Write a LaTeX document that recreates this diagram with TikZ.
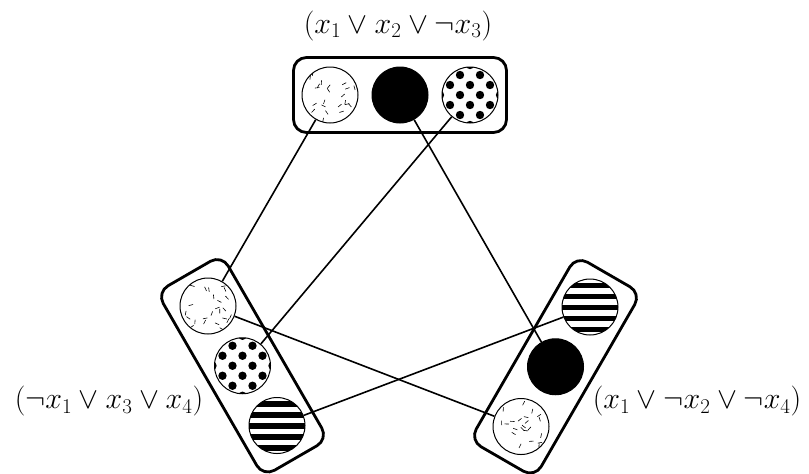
\RequirePackage{fix-cm}
\documentclass[tikz,border=0pt]{standalone}
\usepackage{amssymb}
\usetikzlibrary{positioning}
\usetikzlibrary{calc}

\tikzset{
    lit/.style={circle, draw, fill=white, line width=1pt, minimum size=56pt, inner sep=0pt},
    solidlit/.style={lit, fill=black},
    dashlit/.style={lit, path picture={
        \pgfmathsetseed{#1}
        \foreach \k in {1,...,24}{
            \pgfmathsetmacro\rx{rand*24}
            \pgfmathsetmacro\ry{rand*24}
            \pgfmathsetmacro\ra{rand*180}
            \draw[line width=0.6pt] ($(path picture bounding box.center)+(\rx pt,\ry pt)$) -- ++(\ra:4.5pt);
        }}},
    dashlit/.default=1,
    dotlit/.style={lit, path picture={
        \foreach \i in {-3,...,3}{
            \foreach \j in {-3,...,3}{
                \pgfmathparse{int(mod(\i+\j+10,2))}
                \ifnum\pgfmathresult=1
                    \fill[black] ($(path picture bounding box.center)+(10*\i pt,10*\j pt)$) circle (4.2pt);
                \fi
            }
        }}},
    stripelit/.style={lit, path picture={
        \foreach \j in {0,...,5}{
            \fill[black] ($(path picture bounding box.center)+(-30pt,-36pt+11*\j pt)$) rectangle ++(60pt,5.5pt);
        }}},
    litbox/.style={rectangle, draw, rounded corners=13pt, line width=2.8pt, minimum width=213pt, minimum height=75pt},
    conn/.style={line width=1.6pt},
    clause/.style={font=\fontsize{30}{34}\selectfont, inner sep=0pt}
}

\begin{document}
\begin{tikzpicture}[x=1pt, y=-1pt]
    \useasboundingbox (0,0) rectangle (809,474);

    % top clause
    \node[dashlit=2] (t1) at (330,95) {};
    \node[solidlit, right=13pt of t1] (t2) {};
    \node[dotlit, right=13pt of t2] (t3) {};
    \node[litbox] (tbox) at (t2) {};

    % left clause
    \node[dashlit=5] (l1) at (208,306) {};
    \node[dotlit] (l2) at ($(l1)+(-60:69pt)$) {};
    \node[stripelit] (l3) at ($(l2)+(-60:69pt)$) {};
    \node[litbox, rotate=-60] (lbox) at (l2) {};

    % right clause
    \node[stripelit] (r1) at (590,307) {};
    \node[solidlit] (r2) at ($(r1)+(-120:69pt)$) {};
    \node[dashlit=7] (r3) at ($(r2)+(-120:69pt)$) {};
    \node[litbox, rotate=60] (rbox) at (r2) {};

    \draw[conn] (t1) -- (l1);
    \draw[conn] (t2) -- (r2);
    \draw[conn] (t3) -- (l2);
    \draw[conn] (l1) -- (r3);
    \draw[conn] (l3) -- (r1);

    \node[clause] (tlabel) at (398,26) {$(x_1 \vee x_2 \vee \neg x_3)$};
    \node[clause] (llabel) at (109,401) {$(\neg x_1 \vee x_3 \vee x_4)$};
    \node[clause] (rlabel) at (697,401) {$(x_1 \vee \neg x_2 \vee \neg x_4)$};
\end{tikzpicture}
\end{document}
